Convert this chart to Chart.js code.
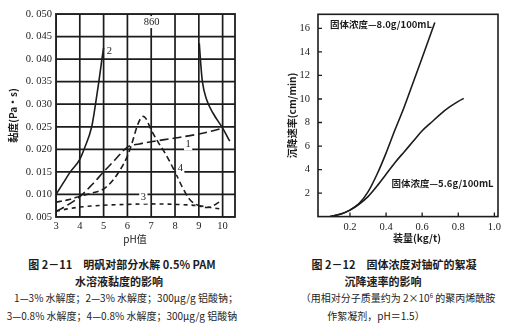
<!DOCTYPE html>
<html>
<head>
<meta charset="utf-8">
<script src="https://cdn.jsdelivr.net/npm/chart.js@4.4.1/dist/chart.umd.min.js"></script>
<style>
  html, body { margin: 0; padding: 0; background: #fff; }
  body { width: 506px; height: 329px; position: relative; overflow: hidden;
         font-family: "Noto Sans CJK SC", "Liberation Serif", serif; color: #1c1c1c; }
  canvas { position: absolute; top: 0; }
  #visc { left: 0; }
  #settle { left: 255px; }
  .cap { position: absolute; white-space: nowrap; transform: translate(-50%, -50%); line-height: 1; }
  .head { font-size: 11px; font-weight: bold; }
  .note { font-size: 10px; }
</style>
</head>
<body>
<canvas id="visc" width="245" height="250"></canvas>
<canvas id="settle" width="251" height="250"></canvas>

<div class="cap head" style="left:122px;top:264px">图 2－11　明矾对部分水解 0.5% PAM</div>
<div class="cap head" style="left:119px;top:281px">水溶液黏度的影响</div>
<div class="cap note" style="left:126px;top:298px">1—3% 水解度；2—3% 水解度；300μg/g 铝酸钠；</div>
<div class="cap note" style="left:122px;top:316px">3—0.8% 水解度；4—0.8% 水解度；300μg/g 铝酸钠</div>

<div class="cap head" style="left:394px;top:264px">图 2－12　固体浓度对铀矿的絮凝</div>
<div class="cap head" style="left:383px;top:281px">沉降速率的影响</div>
<div class="cap note" style="left:398px;top:298px">（用相对分子质量约为 2×10<sup style="font-size:6px">6</sup> 的聚丙烯酰胺</div>
<div class="cap note" style="left:376px;top:316px">作絮凝剂，pH＝1.5）</div>

<script>
// ---- Viscosity vs pH (Fig. 2-11) ----
const PH_MIN = 3, PH_MAX = 10.52, VISC_MIN = 0.005, VISC_MAX = 0.050;
const phTicks = [3, 4, 5, 6, 7, 8, 9, 10];
const viscTicks = [0.005, 0.010, 0.015, 0.020, 0.025, 0.030, 0.035, 0.040, 0.045, 0.050];
const viscTickLabels = ['0. 005', '0. 010', '0. 015', '0. 020', '0. 025', '0. 030', '0. 035', '0. 040', '0. 045', '0. 050'];

// curve 1: 3% hydrolysis
const ph1   = [3, 3.5, 4, 4.5, 5, 5.5, 6, 6.5, 7, 8, 9, 9.5, 10];
const visc1 = [0.0062, 0.0077, 0.0095, 0.0121, 0.0150, 0.0178, 0.0205, 0.0212, 0.0217, 0.0225, 0.0234, 0.0240, 0.0247];

// curve 2: 3% hydrolysis + 300 μg/g sodium aluminate (two branches, peak 0.860 off scale)
const ph2a   = [3, 3.3, 3.6, 4, 4.2, 4.5, 4.66, 4.8, 4.93, 5.0];
const visc2a = [0.0100, 0.0125, 0.0150, 0.0178, 0.0203, 0.0250, 0.0300, 0.0350, 0.0400, 0.0425];
const ph2b   = [9.02, 9.08, 9.15, 9.33, 9.6, 10, 10.3];
const visc2b = [0.0435, 0.0390, 0.0350, 0.0310, 0.0280, 0.0247, 0.0218];

// curve 3: 0.8% hydrolysis
const ph3   = [3, 3.5, 4, 5, 6, 7, 8, 9, 9.5, 10];
const visc3 = [0.0063, 0.0068, 0.0072, 0.0076, 0.0078, 0.0079, 0.0078, 0.0075, 0.0071, 0.0067];

// curve 4: 0.8% hydrolysis + 300 μg/g sodium aluminate
const ph4   = [3, 3.5, 4, 4.5, 5, 5.4, 5.7, 6, 6.2, 6.4, 6.55, 6.67, 6.78, 7, 7.3, 7.6, 8, 8.3, 8.6, 9, 9.4, 9.6, 9.85];
const visc4 = [0.0083, 0.0088, 0.0096, 0.0103, 0.0112, 0.0132, 0.0155, 0.0185, 0.0215, 0.0250, 0.0268, 0.0273, 0.0268, 0.0243, 0.0215, 0.0190, 0.0150, 0.0117, 0.0090, 0.0075, 0.0071, 0.0075, 0.0083];

const viscCurveLabels = [
  { text: '2',   x: 5.24, y: 0.0417 },
  { text: '860', x: 7.02, y: 0.0482 },
  { text: '1',   x: 8.55, y: 0.0211 },
  { text: '4',   x: 8.22, y: 0.0157 },
  { text: '3',   x: 6.67, y: 0.0093 }
];

// ---- Settling rate vs dosage (Fig. 2-12) ----
const doseTicks = [0.2, 0.4, 0.6, 0.8, 1.0];
const doseTickLabels = ['0.2', '0.4', '0.6', '0.8', '1.0'];
const rateTicks = [2, 4, 6, 8, 10, 12, 14, 16];

const dose80 = [0.09, 0.15, 0.2, 0.25, 0.3, 0.35, 0.4, 0.45, 0.5, 0.55, 0.6, 0.67];
const rate80 = [0, 0.22, 0.55, 1.1, 2.1, 3.6, 5.4, 7.4, 9.3, 11.4, 13.5, 16.5];
const dose56 = [0.09, 0.15, 0.2, 0.25, 0.3, 0.35, 0.4, 0.45, 0.5, 0.55, 0.6, 0.65, 0.7, 0.75, 0.8, 0.83];
const rate56 = [0, 0.22, 0.55, 1.05, 1.7, 2.6, 3.6, 4.6, 5.5, 6.4, 7.3, 8.0, 8.7, 9.3, 9.8, 10.05];

const settleCurveLabels = [
  { text: '固体浓度—8.0g/100mL', x: 0.089, y: 16.3, align: 'left' },
  { text: '固体浓度—5.6g/100mL', x: 0.43,  y: 2.85, align: 'left' }
];

const INK = '#1c1c1c';
const NUM_FONT = { family: '"Liberation Serif", serif', size: 10.5 };
const CJK_FONT = { family: '"Noto Sans CJK SC", sans-serif', size: 10, weight: 'bold' };

const zip = (xs, ys) => xs.map((x, i) => ({ x, y: ys[i] }));

// Frame, inside tick marks, curve labels and x-axis title, drawn over the datasets.
function makeDecor(id, cfg) {
  return {
    id,
    afterDatasetsDraw(chart) {
      const { ctx, chartArea: a, scales: { x, y } } = chart;
      ctx.save();
      ctx.setLineDash([]);
      ctx.strokeStyle = INK;
      ctx.lineWidth = cfg.frameWidth;
      ctx.strokeRect(a.left, a.top, a.right - a.left, a.bottom - a.top);
      if (cfg.innerTicks) {
        ctx.lineWidth = 1.3;
        ctx.beginPath();
        x.ticks.forEach(t => { const px = x.getPixelForValue(t.value); if (px < a.right - 2) { ctx.moveTo(px, a.bottom); ctx.lineTo(px, a.bottom - 4); } });
        y.ticks.forEach(t => { const py = y.getPixelForValue(t.value); ctx.moveTo(a.left, py); ctx.lineTo(a.left + 4, py); });
        ctx.stroke();
      }
      ctx.textBaseline = 'middle';
      cfg.labels.forEach(l => {
        ctx.font = l.text.length > 3 ? cfg.cjkFont : cfg.numFont;
        ctx.textAlign = l.align || 'center';
        const px = x.getPixelForValue(l.x), py = y.getPixelForValue(l.y);
        const w = ctx.measureText(l.text).width;
        if (cfg.labelBg) {
          ctx.fillStyle = '#fff';
          const lx = l.align === 'left' ? px : px - w / 2;
          ctx.fillRect(lx - 1.5, py - 6, w + 3, 12);
        }
        ctx.fillStyle = INK;
        ctx.fillText(l.text, px, py);
      });
      ctx.font = cfg.titleFont;
      ctx.textAlign = 'center';
      ctx.fillStyle = INK;
      ctx.fillText(cfg.xTitle, a.left + cfg.xTitleDx, a.bottom + cfg.xTitleDy);
      ctx.restore();
    }
  };
}

const viscDecor = makeDecor('viscDecor', {
  frameWidth: 1.8, innerTicks: false, labelBg: true, labels: viscCurveLabels,
  numFont: '10.5px "Liberation Serif", serif', cjkFont: 'bold 10px "Noto Sans CJK SC"',
  xTitle: 'pH值', titleFont: '10px "Noto Sans CJK SC", "Liberation Serif"', xTitleDx: 79, xTitleDy: 22
});

const settleDecor = makeDecor('settleDecor', {
  frameWidth: 1.6, innerTicks: true, labelBg: false, labels: settleCurveLabels,
  numFont: '10.5px "Liberation Serif", serif', cjkFont: 'bold 9.5px "Noto Sans CJK SC", "Liberation Serif"',
  xTitle: '装量(kg/t)', titleFont: 'bold 10px "Noto Sans CJK SC", "Liberation Serif"', xTitleDx: 99, xTitleDy: 22
});

const lineDs = (data, dash) => ({
  data, borderColor: INK, borderWidth: 1.6, borderDash: dash,
  pointRadius: 0, cubicInterpolationMode: 'monotone', fill: false, order: 0
});

// Grid rules as straight two-point datasets, kept underneath the curves (higher order).
const gridDs = data => ({
  data, borderColor: INK, borderWidth: 1.7, borderDash: [],
  pointRadius: 0, tension: 0, fill: false, order: 10
});
const viscGrid = [
  ...phTicks.map(p => gridDs([{ x: p, y: VISC_MIN }, { x: p, y: VISC_MAX }])),
  ...viscTicks.map(v => gridDs([{ x: PH_MIN, y: v }, { x: PH_MAX, y: v }]))
];

new Chart(document.getElementById('visc'), {
  type: 'line',
  data: {
    datasets: [
      lineDs(zip(ph1, visc1), [9, 4]),
      lineDs(zip(ph2a, visc2a), []),
      lineDs(zip(ph2b, visc2b), []),
      lineDs(zip(ph3, visc3), [4, 4]),
      lineDs(zip(ph4, visc4), [6, 3.5]),
      ...viscGrid
    ]
  },
  options: {
    responsive: false, animation: false,
    layout: { padding: { top: 14, right: 10, left: 0, bottom: 0 } },
    plugins: { legend: { display: false }, tooltip: { enabled: false } },
    scales: {
      x: {
        type: 'linear', min: PH_MIN, max: PH_MAX,
        afterBuildTicks: s => { s.ticks = phTicks.map(v => ({ value: v })); },
        afterFit: s => { s.height = 33; },
        border: { display: false },
        grid: { display: false, drawTicks: false },
        ticks: { color: INK, font: NUM_FONT, padding: 3, maxRotation: 0 }
      },
      y: {
        type: 'linear', min: VISC_MIN, max: VISC_MAX,
        afterBuildTicks: s => { s.ticks = viscTicks.map(v => ({ value: v })); },
        afterFit: s => { s.width = 56; },
        border: { display: false },
        grid: { display: false, drawTicks: false },
        ticks: { color: INK, font: NUM_FONT, padding: 4, callback: (v, i) => viscTickLabels[i] },
        title: { display: true, text: '黏度(Pa·s)', color: INK, font: CJK_FONT, padding: { top: 7, bottom: 0 } }
      }
    }
  },
  plugins: [viscDecor]
});

new Chart(document.getElementById('settle'), {
  type: 'line',
  data: {
    datasets: [
      lineDs(zip(dose80, rate80), []),
      lineDs(zip(dose56, rate56), [])
    ]
  },
  options: {
    responsive: false, animation: false,
    layout: { padding: { top: 12, right: 8, left: 0, bottom: 0 } },
    plugins: { legend: { display: false }, tooltip: { enabled: false } },
    scales: {
      x: {
        type: 'linear', min: 0.023, max: 1.02,
        afterBuildTicks: s => { s.ticks = doseTicks.map(v => ({ value: v })); },
        afterFit: s => { s.height = 33.4; },
        border: { display: false },
        grid: { display: false, drawTicks: false },
        ticks: { color: INK, font: NUM_FONT, padding: 4, maxRotation: 0, callback: (v, i) => doseTickLabels[i] }
      },
      y: {
        type: 'linear', min: 0, max: 17.2,
        afterBuildTicks: s => { s.ticks = rateTicks.map(v => ({ value: v })); },
        afterFit: s => { s.width = 63; },
        border: { display: false },
        grid: { display: false, drawTicks: false },
        ticks: { color: INK, font: NUM_FONT, padding: 8 },
        title: { display: true, text: '沉降速率(cm/min)', color: INK, font: CJK_FONT, padding: { top: 31, bottom: 0 } }
      }
    }
  },
  plugins: [settleDecor]
});
</script>
</body>
</html>
